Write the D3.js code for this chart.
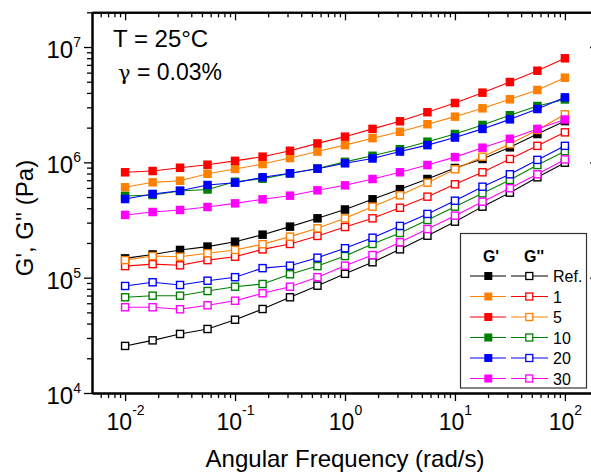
<!DOCTYPE html>
<html>
<head>
<meta charset="utf-8">
<script src="https://cdn.jsdelivr.net/npm/d3@7"></script>
<style>
  body { margin: 0; background: #fff; }
  svg { display: block; font-family: "Liberation Sans", Arial, sans-serif; }
  .axis path, .axis line { stroke: #000; }
  .axis path { stroke-width: 2; }
  .axis line { stroke-width: 1.3; }
</style>
</head>
<body>
<svg width="591" height="474"></svg>
<script>

// angular frequency (rad/s)
var freq = [0.01, 0.0178, 0.0316, 0.0562, 0.1, 0.178, 0.316, 0.562, 1, 1.78, 3.16, 5.62, 10, 17.8, 31.6, 56.2, 100];

var labels = ['Ref.', '1', '5', '10', '20', '30'];

// G' (filled)
var gpRef = [1.47e5, 1.59e5, 1.74e5, 1.86e5, 2.05e5, 2.36e5, 2.77e5, 3.27e5, 3.90e5, 4.78e5, 5.85e5, 7.17e5, 8.93e5, 1.07e6, 1.35e6, 1.76e6, 2.28e6];
var gp1   = [6.08e5, 6.71e5, 6.93e5, 7.97e5, 8.76e5, 9.67e5, 1.09e6, 1.24e6, 1.41e6, 1.62e6, 1.84e6, 2.14e6, 2.49e6, 2.94e6, 3.52e6, 4.24e6, 5.42e6];
var gp5   = [8.20e5, 8.41e5, 8.98e5, 9.54e5, 1.03e6, 1.12e6, 1.26e6, 1.46e6, 1.67e6, 1.95e6, 2.27e6, 2.72e6, 3.27e6, 4.02e6, 4.97e6, 6.23e6, 7.98e6];
var gp10  = [5.11e5, 5.21e5, 5.64e5, 5.82e5, 6.79e5, 7.22e5, 8.00e5, 8.85e5, 1.01e6, 1.14e6, 1.30e6, 1.51e6, 1.76e6, 2.11e6, 2.56e6, 3.08e6, 3.51e6];
var gp20  = [4.81e5, 5.32e5, 5.68e5, 6.36e5, 6.66e5, 7.42e5, 8.04e5, 8.81e5, 9.81e5, 1.08e6, 1.24e6, 1.41e6, 1.64e6, 1.95e6, 2.36e6, 2.90e6, 3.66e6];
var gp30  = [3.50e5, 3.71e5, 3.86e5, 4.10e5, 4.41e5, 4.78e5, 5.14e5, 5.72e5, 6.32e5, 7.17e5, 8.20e5, 9.48e5, 1.11e6, 1.34e6, 1.60e6, 1.95e6, 2.35e6];

// G'' (open)
var gppRef = [2.56e4, 2.86e4, 3.25e4, 3.59e4, 4.32e4, 5.35e4, 6.76e4, 8.52e4, 1.08e5, 1.36e5, 1.76e5, 2.31e5, 3.06e5, 4.13e5, 5.46e5, 7.42e5, 9.93e5];
var gpp1   = [1.26e5, 1.31e5, 1.28e5, 1.42e5, 1.52e5, 1.76e5, 1.96e5, 2.30e5, 2.75e5, 3.27e5, 4.04e5, 5.04e5, 6.45e5, 8.20e5, 1.07e6, 1.39e6, 1.82e6];
var gpp5   = [1.42e5, 1.54e5, 1.52e5, 1.63e5, 1.74e5, 1.95e5, 2.27e5, 2.68e5, 3.27e5, 4.13e5, 5.18e5, 6.66e5, 8.71e5, 1.12e6, 1.44e6, 1.91e6, 2.61e6];
var gpp10  = [6.76e4, 6.98e4, 6.98e4, 7.66e4, 8.35e4, 8.81e4, 1.07e5, 1.26e5, 1.54e5, 1.96e5, 2.44e5, 3.16e5, 4.13e5, 5.39e5, 7.03e5, 9.48e5, 1.25e6];
var gpp20  = [8.47e4, 9.12e4, 8.64e4, 9.41e4, 1.01e5, 1.21e5, 1.27e5, 1.49e5, 1.80e5, 2.22e5, 2.81e5, 3.57e5, 4.65e5, 6.15e5, 7.88e5, 1.05e6, 1.39e6];
var gpp30  = [5.54e4, 5.54e4, 5.32e4, 5.76e4, 6.31e4, 7.32e4, 8.35e4, 1.01e5, 1.27e5, 1.57e5, 2.03e5, 2.64e5, 3.45e5, 4.56e5, 5.96e5, 7.88e5, 1.06e6];

var xTicks = [0.01, 0.1, 1, 10, 100];
var yTicks = [1e4, 1e5, 1e6, 1e7];

var series = [
  { name: labels[0], gp: gpRef, gpp: gppRef, c1: '#000000', c2: '#000000' },
  { name: labels[1], gp: gp1,   gpp: gpp1,   c1: '#ff8000', c2: '#ff0000' },
  { name: labels[2], gp: gp5,   gpp: gpp5,   c1: '#ff0000', c2: '#ff8000' },
  { name: labels[3], gp: gp10,  gpp: gpp10,  c1: '#008000', c2: '#008000' },
  { name: labels[4], gp: gp20,  gpp: gpp20,  c1: '#0000ff', c2: '#0000ff' },
  { name: labels[5], gp: gp30,  gpp: gpp30,  c1: '#ff00ff', c2: '#ff00ff' }
];

var pLeft = 92, pRight = 598, pTop = 12.3, pBottom = 393;

var x = d3.scaleLog().domain([0.005, 200]).range([pLeft, pRight]);
var y = d3.scaleLog().domain([1e4, 2e7]).range([pBottom, pTop]);

function minors(lo, hi) {
  var out = [];
  for (var e = Math.floor(Math.log10(lo)); e <= Math.ceil(Math.log10(hi)); e++) {
    for (var m = 2; m <= 9; m++) {
      var v = m * Math.pow(10, e);
      if (v > lo * 1.0001 && v <= hi * 1.0001) out.push(v);
    }
  }
  return out;
}
var xMinor = minors(0.005, 200);
var yMinor = minors(1e4, 2e7);

var svg = d3.select('svg');

// minor ticks
svg.append('g').attr('class', 'axis').attr('transform', 'translate(0,' + pBottom + ')')
   .call(d3.axisBottom(x).tickValues(xMinor).tickSize(5).tickSizeOuter(0).tickFormat(''));
svg.append('g').attr('class', 'axis').attr('transform', 'translate(0,' + pTop + ')')
   .call(d3.axisTop(x).tickValues(xMinor).tickSize(-5).tickSizeOuter(0).tickFormat(''));
svg.append('g').attr('class', 'axis').attr('transform', 'translate(' + pLeft + ',0)')
   .call(d3.axisLeft(y).tickValues(yMinor).tickSize(5).tickSizeOuter(0).tickFormat(''));
svg.append('g').attr('class', 'axis').attr('transform', 'translate(' + pRight + ',0)')
   .call(d3.axisRight(y).tickValues(yMinor).tickSize(-5).tickSizeOuter(0).tickFormat(''));

// major ticks
var xAxis = svg.append('g').attr('class', 'axis').attr('transform', 'translate(0,' + pBottom + ')')
   .call(d3.axisBottom(x).tickValues(xTicks).tickSize(8).tickSizeOuter(0));
svg.append('g').attr('class', 'axis').attr('transform', 'translate(0,' + pTop + ')')
   .call(d3.axisTop(x).tickValues(xTicks).tickSize(-8).tickSizeOuter(0).tickFormat(''));
var yAxis = svg.append('g').attr('class', 'axis').attr('transform', 'translate(' + pLeft + ',0)')
   .call(d3.axisLeft(y).tickValues(yTicks).tickSize(8).tickSizeOuter(0));
svg.append('g').attr('class', 'axis').attr('transform', 'translate(' + pRight + ',0)')
   .call(d3.axisRight(y).tickValues(yTicks).tickSize(-8).tickSizeOuter(0).tickFormat(''));

// power-of-ten labels
xAxis.selectAll('.tick text').each(function(d) {
  var t = d3.select(this).text(null)
    .attr('y', 37).attr('dy', null)
    .attr('font-size', 23).attr('font-family', null).attr('fill', '#000');
  t.append('tspan').text('10');
  t.append('tspan').attr('dy', -15).attr('font-size', 14).text(Math.round(Math.log10(d)));
});
yAxis.selectAll('.tick text').each(function(d) {
  var t = d3.select(this).text(null)
    .attr('x', -11).attr('y', 10.5).attr('dy', null)
    .attr('font-size', 24).attr('font-family', null).attr('fill', '#000');
  t.append('tspan').text('10');
  t.append('tspan').attr('dy', -11).attr('font-size', 14).text(Math.round(Math.log10(d)));
});

// axis titles
svg.append('text')
   .attr('x', (pLeft + pRight) / 2).attr('y', 467)
   .attr('text-anchor', 'middle').attr('font-size', 24)
   .text('Angular Frequency (rad/s)');
svg.append('text')
   .attr('transform', 'translate(33,218) rotate(-90)')
   .attr('text-anchor', 'middle').attr('font-size', 24)
   .text("G', G'' (Pa)");

// annotations
svg.append('text').attr('x', 113).attr('y', 47).attr('font-size', 24).text('T = 25°C');
var gam = svg.append('text').attr('x', 118).attr('y', 80).attr('font-size', 23);
gam.append('tspan').attr('font-family', '"DejaVu Serif", serif').attr('font-size', 21).text('γ');
gam.append('tspan').text(' = 0.03%');

var line = d3.line()
  .x(function(d) { return x(d[0]); })
  .y(function(d) { return y(d[1]); });

var ms = 8.5;

series.forEach(function(s) {
  var g = svg.append('g');
  var pts1 = freq.map(function(f, i) { return [f, s.gp[i]]; });
  var pts2 = freq.map(function(f, i) { return [f, s.gpp[i]]; });

  g.append('path').attr('d', line(pts1))
    .attr('fill', 'none').attr('stroke', s.c1).attr('stroke-width', 1.1);
  g.selectAll('.gp').data(pts1).enter().append('rect')
    .attr('x', function(d) { return x(d[0]) - ms / 2; })
    .attr('y', function(d) { return y(d[1]) - ms / 2; })
    .attr('width', ms).attr('height', ms)
    .attr('fill', s.c1);

  g.append('path').attr('d', line(pts2))
    .attr('fill', 'none').attr('stroke', s.c2).attr('stroke-width', 1.1);
  g.selectAll('.gpp').data(pts2).enter().append('rect')
    .attr('x', function(d) { return x(d[0]) - (ms - 1.4) / 2; })
    .attr('y', function(d) { return y(d[1]) - (ms - 1.4) / 2; })
    .attr('width', ms - 1.4).attr('height', ms - 1.4)
    .attr('fill', '#fff').attr('stroke', s.c2).attr('stroke-width', 1.4);
});

// legend
var lg = svg.append('g');
lg.append('rect').attr('x', 460.5).attr('y', 233.5).attr('width', 126).attr('height', 154.5)
  .attr('fill', '#fff').attr('stroke', '#333').attr('stroke-width', 1.2);
lg.append('text').attr('x', 491).attr('y', 262).attr('text-anchor', 'middle')
  .attr('font-size', 16).attr('font-weight', 'bold').text("G'");
lg.append('text').attr('x', 534).attr('y', 262).attr('text-anchor', 'middle')
  .attr('font-size', 16).attr('font-weight', 'bold').text("G''");

series.forEach(function(s, i) {
  var cy = 276 + i * 20.5;
  lg.append('line').attr('x1', 470).attr('x2', 506).attr('y1', cy).attr('y2', cy)
    .attr('stroke', s.c1).attr('stroke-width', 1.1);
  lg.append('rect').attr('x', 488.3 - 4).attr('y', cy - 4).attr('width', 8).attr('height', 8)
    .attr('fill', s.c1);
  lg.append('line').attr('x1', 511).attr('x2', 548).attr('y1', cy).attr('y2', cy)
    .attr('stroke', s.c2).attr('stroke-width', 1.1);
  lg.append('rect').attr('x', 529.3 - 3.5).attr('y', cy - 3.5).attr('width', 7).attr('height', 7)
    .attr('fill', '#fff').attr('stroke', s.c2).attr('stroke-width', 1.3);
  lg.append('text').attr('x', 553).attr('y', cy + 6).attr('font-size', 16).text(s.name);
});

</script>
</body>
</html>
